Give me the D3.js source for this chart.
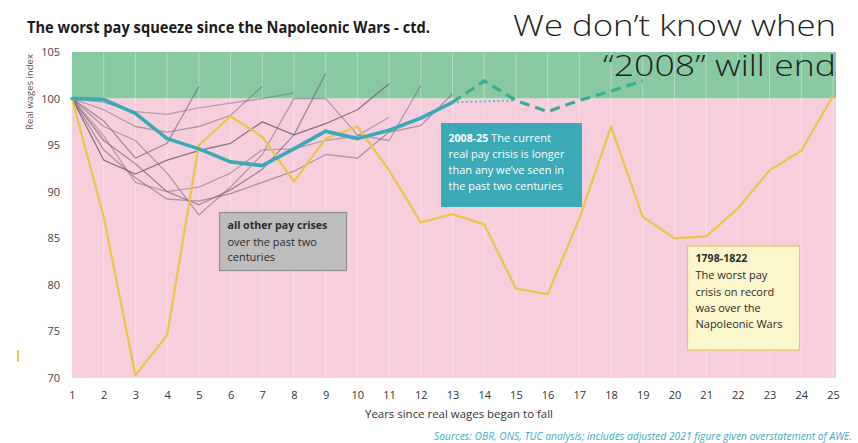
<!DOCTYPE html>
<html>
<head>
<meta charset="utf-8">
<script src="https://cdn.jsdelivr.net/npm/d3@7"></script>
<style>
  html, body { margin: 0; padding: 0; background: #ffffff; }
  svg { display: block; }
  text { font-family: "Open Sans", "Noto Sans", sans-serif; }
</style>
</head>
<body>
<svg id="chart" width="858" height="443"></svg>
<script>
// Years since real wages began to fall
const years = [1,2,3,4,5,6,7,8,9,10,11,12,13,14,15,16,17,18,19,20,21,22,23,24,25];
const yTicks = [70, 75, 80, 85, 90, 95, 100, 105];

// 1798-1822: the Napoleonic Wars squeeze
const napoleonic = [100, 87.3, 70.3, 74.6, 95.0, 98.1, 95.9, 91.1, 95.7, 97.0, 92.3, 86.7, 87.6,
                    86.5, 79.6, 79.0, 87.1, 97.0, 87.3, 85.0, 85.2, 88.2, 92.3, 94.4, 100.3];

// 2008-25: the current squeeze (outturn, years 1-13)
const current = [100, 99.9, 98.4, 95.7, 94.6, 93.2, 92.8, 94.6, 96.5, 95.7, 96.6, 97.9, 99.6];
// projections from year 13 onwards
const projDottedYears = [13, 14, 15];
const projDotted = [99.6, 99.7, 99.8];
const projDashedYears = [13, 14, 15, 16, 17, 18, 19];
const projDashed = [99.6, 101.9, 99.8, 98.6, 99.8, 100.8, 101.9];

// all other pay crises over the past two centuries (each from year 1)
const otherCrises = [
  [100, 97.6, 93.6, 95.2, 101.3],
  [100, 98.8, 97.0, 96.4, 97.0, 98.2, 101.3],
  [100, 99.6, 98.6, 98.3, 99.0, 99.5, 100.0, 100.6],
  [100, 95.5, 93.0, 90.0, 88.6, 90.2, 92.4, 96.1, 102.7],
  [100, 93.4, 91.9, 93.4, 94.4, 95.2, 97.5, 96.1, 97.3, 98.8, 101.6],
  [100, 97.0, 95.5, 92.0, 87.5, 90.5, 94.0, 100.0, 100.0, 96.1, 95.5, 101.4],
  [100, 94.5, 91.5, 89.2, 89.0, 89.8, 91.0, 92.2, 94.0, 93.6, 96.4, 97.1, 100.5],
  [100, 96.0, 91.0, 90.0, 90.5, 92.0, 94.5, 94.6, 95.5, 96.0, 98.0]
];
const otherOpacity = [0.7, 0.55, 0.5, 0.7, 0.9, 0.55, 0.6, 0.5];

const svg = d3.select("#chart");

const x = d3.scaleLinear().domain([1, 25]).range([72, 833]);
const y = d3.scaleLinear().domain([70, 105]).range([378, 52]);
const plotRight = 836;

// background bands: above and below the starting level
svg.append("rect")
  .attr("x", x(1)).attr("y", y(105))
  .attr("width", plotRight - x(1)).attr("height", y(100) - y(105))
  .attr("fill", "#88c9a1");
svg.append("rect")
  .attr("x", x(1)).attr("y", y(100))
  .attr("width", plotRight - x(1)).attr("height", y(70) - y(100))
  .attr("fill", "#f7cfdc");

// faint vertical grid
svg.append("g")
  .selectAll("line")
  .data(years.slice(1))
  .join("line")
  .attr("x1", d => x(d)).attr("x2", d => x(d))
  .attr("y1", y(105)).attr("y2", y(70))
  .attr("stroke", "#ffffff").attr("stroke-opacity", 0.35).attr("stroke-width", 1);

// axes (labels only, no domain lines)
const yAxis = d3.axisLeft(y).tickValues(yTicks).tickSize(0).tickPadding(0);
const gy = svg.append("g").attr("transform", "translate(60,0)").call(yAxis);
gy.select(".domain").remove();
gy.selectAll("text")
  .attr("font-family", "'Open Sans', sans-serif")
  .attr("font-size", 11).attr("fill", "#444");

const xAxis = d3.axisBottom(x).tickValues(years).tickFormat(d3.format("d")).tickSize(0).tickPadding(0);
const gx = svg.append("g").attr("transform", "translate(0,391)").call(xAxis);
gx.select(".domain").remove();
gx.selectAll("text")
  .attr("font-family", "'Open Sans', sans-serif")
  .attr("font-size", 11).attr("fill", "#333");

// line generator
const line = d3.line().x(d => x(d[0])).y(d => y(d[1]));
const pairs = (xs, vs) => vs.map((v, i) => [xs[i], v]);

// other crises
svg.append("g")
  .selectAll("path")
  .data(otherCrises)
  .join("path")
  .attr("d", d => line(pairs(years, d)))
  .attr("fill", "none")
  .attr("stroke", "#75687a")
  .attr("stroke-opacity", (d, i) => otherOpacity[i])
  .attr("stroke-width", 1.3)
  .attr("stroke-linejoin", "round");

// Napoleonic Wars
svg.append("path")
  .attr("d", line(pairs(years, napoleonic)))
  .attr("fill", "none")
  .attr("stroke", "#e9c64a")
  .attr("stroke-width", 2.3)
  .attr("stroke-linejoin", "round");

// current crisis and projections
svg.append("path")
  .attr("d", line(pairs(projDottedYears, projDotted)))
  .attr("fill", "none")
  .attr("stroke", "#5fbcc6")
  .attr("stroke-width", 2)
  .attr("stroke-dasharray", "2,2.5");
svg.append("path")
  .attr("d", line(pairs(projDashedYears, projDashed)))
  .attr("fill", "none")
  .attr("stroke", "#37ad92")
  .attr("stroke-width", 3.2)
  .attr("stroke-dasharray", "10,6");
svg.append("path")
  .attr("d", line(pairs(years, current)))
  .attr("fill", "none")
  .attr("stroke", "#3aa9b8")
  .attr("stroke-width", 3.6)
  .attr("stroke-linejoin", "round")
  .attr("stroke-linecap", "round");

// annotation boxes
function box(bx, by, bw, bh, fill, stroke) {
  svg.append("rect")
    .attr("x", bx).attr("y", by).attr("width", bw).attr("height", bh)
    .attr("fill", fill)
    .attr("stroke", stroke || "none").attr("stroke-width", stroke ? 1.2 : 0);
}
function textLines(tx, baselines, rows, color) {
  rows.forEach((row, i) => {
    const t = svg.append("text")
      .attr("x", tx).attr("y", baselines[i]).attr("fill", color);
    row.forEach(seg => {
      t.append("tspan")
        .attr("font-weight", seg.bold ? 700 : 400)
        .attr("font-size", seg.bold ? 10.6 : 11)
        .text(seg.t);
    });
  });
}

box(219.5, 212.5, 127, 58, "#bdbdbd", "#8f8f8f");
textLines(227.5, [229, 245.5, 261], [
  [{t: "all other pay crises", bold: true}],
  [{t: "over the past two"}],
  [{t: "centuries"}]
], "#2b2b2b");

box(441, 123, 141, 84, "#3aaab6");
textLines(448.5, [141.5, 157.5, 173.5, 189.5], [
  [{t: "2008-25", bold: true}, {t: " The current"}],
  [{t: "real pay crisis is longer"}],
  [{t: "than any we\u2019ve seen in"}],
  [{t: "the past two centuries"}]
], "#ffffff");

box(687.5, 246, 112, 104, "#fcf6cd", "#e4c75e");
textLines(695.5, [262, 279, 295.5, 311.5, 328], [
  [{t: "1798-1822", bold: true}],
  [{t: "The worst pay"}],
  [{t: "crisis on record"}],
  [{t: "was over the"}],
  [{t: "Napoleonic Wars"}]
], "#2b2b2b");

// titles and notes
svg.append("text")
  .attr("x", 27).attr("y", 33)
  .attr("font-size", 15.5).attr("font-weight", 700).attr("fill", "#1a1a1a")
  .attr("textLength", 403).attr("lengthAdjust", "spacingAndGlyphs")
  .text("The worst pay squeeze since the Napoleonic Wars - ctd.");

svg.append("text")
  .attr("x", 836).attr("y", 36).attr("text-anchor", "end")
  .attr("font-size", 29.5).attr("font-weight", 300).attr("fill", "#1e1e1e")
  .attr("textLength", 323).attr("lengthAdjust", "spacingAndGlyphs")
  .text("We don\u2019t know when");
svg.append("text")
  .attr("x", 836).attr("y", 76).attr("text-anchor", "end")
  .attr("font-size", 29.5).attr("font-weight", 300).attr("fill", "#1e1e1e")
  .attr("textLength", 233).attr("lengthAdjust", "spacingAndGlyphs")
  .text("\u201c2008\u201d will end");

svg.append("text")
  .attr("transform", "translate(33,92) rotate(-90)")
  .attr("text-anchor", "middle")
  .attr("font-size", 9.5).attr("fill", "#555")
  .text("Real wages index");

svg.append("text")
  .attr("x", 459).attr("y", 418).attr("text-anchor", "middle")
  .attr("font-size", 10).attr("fill", "#333")
  .attr("textLength", 188).attr("lengthAdjust", "spacingAndGlyphs")
  .text("Years since real wages began to fall");

svg.append("text")
  .attr("x", 852).attr("y", 440).attr("text-anchor", "end")
  .attr("font-size", 10).attr("font-style", "italic").attr("fill", "#45a9c4")
  .attr("textLength", 418).attr("lengthAdjust", "spacingAndGlyphs")
  .text("Sources: OBR, ONS, TUC analysis; includes adjusted 2021 figure given overstatement of AWE.");

// small marker at the left margin
svg.append("line")
  .attr("x1", 18).attr("x2", 18).attr("y1", 350).attr("y2", 362)
  .attr("stroke", "#e9c64a").attr("stroke-width", 2);
</script>
</body>
</html>
